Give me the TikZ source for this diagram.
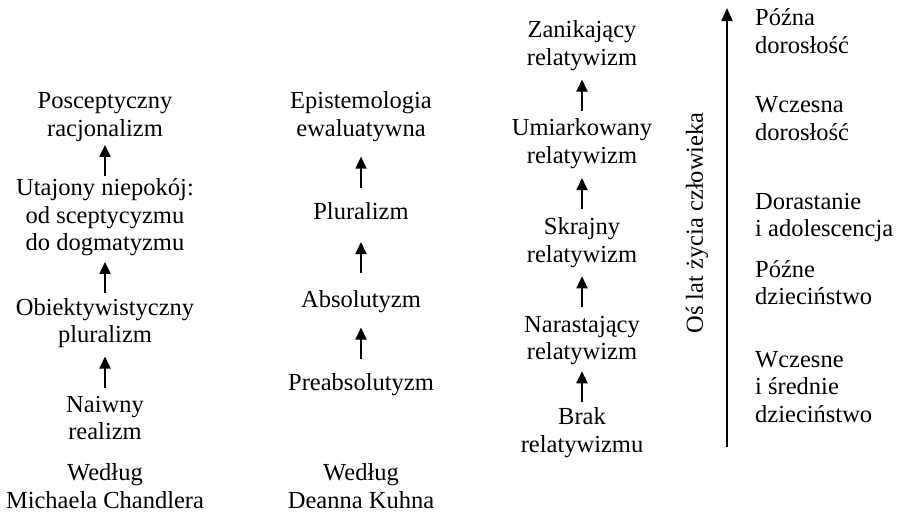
\documentclass[tikz,border=0pt]{standalone}
\usepackage{fontspec}
\setmainfont{Liberation Serif}
\usetikzlibrary{arrows.meta,calc}
\tikzset{
  txt/.style={font=\fontsize{24.5}{27.5}\selectfont, align=center, inner sep=0pt},
  lbl/.style={font=\fontsize{24.5}{27.5}\selectfont, align=left, inner sep=0pt, anchor=west},
  conn/.style={line width=1.8pt, -{Triangle[width=11pt,length=12pt]}},
  axisline/.style={line width=1.8pt, -{Triangle[width=11pt,length=13pt]}}
}
\newcommand\connup[2]{%
  \draw[conn] ($($(#2.south)!0.5!(#1.north)$)+(0,15.5)$) -- ($($(#2.south)!0.5!(#1.north)$)+(0,-15.5)$);}
\begin{document}
\begin{tikzpicture}[x=1pt,y=-1pt]
\useasboundingbox[fill=white] (0,0) rectangle (897,515);
% column 1
\node[txt] (p1) at (105,117) {\strut Posceptyczny\\\strut racjonalizm};
\node[txt] (u1) at (105,217.5) {\strut Utajony niepokój:\\\strut od sceptycyzmu\\\strut do dogmatyzmu};
\node[txt] (o1) at (105,323.5) {\strut Obiektywistyczny\\\strut pluralizm};
\node[txt] (n1) at (105,420.5) {\strut Naiwny\\\strut realizm};
\node[txt] (w1) at (105,489) {\strut Według\\\strut Michaela Chandlera};
\connup{u1}{p1}
\connup{o1}{u1}
\connup{n1}{o1}
% column 2
\node[txt] (e2) at (361,117) {\strut Epistemologia\\\strut ewaluatywna};
\node[txt] (pl2) at (361,213.5) {\strut Pluralizm};
\node[txt] (a2) at (361,301.5) {\strut Absolutyzm};
\node[txt] (pr2) at (361,384.5) {\strut Preabsolutyzm};
\node[txt] (w2) at (361,489) {\strut Według\\\strut Deanna Kuhna};
\connup{pl2}{e2}
\connup{a2}{pl2}
\connup{pr2}{a2}
% column 3
\node[txt] (z3) at (582,46) {\strut Zanikający\\\strut relatywizm};
\node[txt] (um3) at (582,144) {\strut Umiarkowany\\\strut relatywizm};
\node[txt] (s3) at (582,243) {\strut Skrajny\\\strut relatywizm};
\node[txt] (na3) at (582,340.5) {\strut Narastający\\\strut relatywizm};
\node[txt] (b3) at (582,433) {\strut Brak\\\strut relatywizmu};
\connup{um3}{z3}
\connup{s3}{um3}
\connup{na3}{s3}
\connup{b3}{na3}
% axis
\coordinate (axb) at (727,447);
\coordinate (axt) at (727,8);
\draw[axisline] (axb) -- (axt);
\node[txt, rotate=90] (axl) at (697,223) {Oś lat życia człowieka};
% stages
\node[lbl] (s1) at (755,34) {\strut Późna\\\strut dorosłość};
\node[lbl] (s2) at (755,121) {\strut Wczesna\\\strut dorosłość};
\node[lbl] (s3l) at (755,217.5) {\strut Dorastanie\\\strut i adolescencja};
\node[lbl] (s4) at (755,285.5) {\strut Późne\\\strut dzieciństwo};
\node[lbl] (s5) at (755,389) {\strut Wczesne\\\strut i średnie\\\strut dzieciństwo};
\end{tikzpicture}
\end{document}
